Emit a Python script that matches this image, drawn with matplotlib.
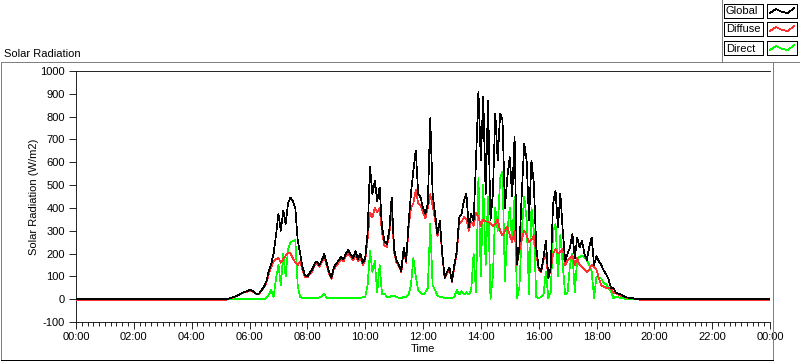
import numpy as np
import matplotlib
matplotlib.use('Agg')
import matplotlib.pyplot as plt
from matplotlib.lines import Line2D
from matplotlib.patches import Rectangle

# ---------------- data (W/m2), 5-minute samples from 05:00 to 20:00 ----------------
global_day = [
    0, 0, 0, 2, 4, 8, 12, 16, 22, 28, 32, 35,                       # 05
    40, 38, 30, 23, 25, 40, 55, 79, 123, 154, 200, 280,             # 06
    374, 300, 388, 330, 420, 446, 430, 400, 260, 200, 140, 105,     # 07
    100, 115, 130, 155, 165, 150, 170, 198, 160, 120, 94, 140,      # 08
    155, 170, 185, 175, 200, 215, 195, 180, 210, 175, 200, 160,     # 09
    180, 290, 578, 460, 520, 430, 490, 314, 255, 242, 300, 446,     # 10
    220, 170, 150, 123, 226, 167, 330, 462, 564, 652, 462, 446,     # 11
    400, 374, 418, 793, 462, 374, 286, 344, 198, 94, 120, 138,      # 12
    79, 150, 211, 358, 374, 432, 462, 314, 374, 344, 608, 909,      # 13
    608, 887, 462, 870, 344, 462, 814, 608, 814, 784, 400, 534,     # 14
    622, 450, 710, 154, 226, 462, 682, 608, 344, 608, 506, 226,     # 15
    138, 123, 180, 255, 94, 138, 420, 476, 314, 462, 300, 167,      # 16
    200, 226, 286, 180, 270, 226, 255, 200, 170, 230, 270, 150,     # 17
    189, 165, 150, 125, 110, 88, 50, 50, 28, 25, 22, 15,            # 18
    9, 7, 5, 4, 2, 1, 0, 0, 0, 0, 0, 0,                             # 19
    0,                                                              # 20:00
]
diffuse_day = [
    -4, -4, -4, 1, 3, 7, 11, 15, 20, 26, 30, 33,
    38, 36, 28, 22, 24, 38, 52, 72, 110, 140, 165, 175,
    180, 160, 175, 190, 205, 200, 180, 160, 150, 165, 130, 98,
    95, 108, 122, 147, 155, 142, 162, 185, 150, 112, 88, 132,
    147, 160, 175, 165, 190, 200, 185, 170, 195, 165, 185, 150,
    170, 260, 380, 360, 400, 380, 400, 290, 235, 230, 280, 400,
    205, 160, 145, 118, 215, 160, 310, 400, 420, 480, 420, 410,
    380, 355, 400, 460, 410, 350, 275, 330, 190, 90, 115, 132,
    76, 140, 200, 330, 340, 360, 350, 300, 340, 320, 380, 360,
    320, 350, 340, 340, 330, 320, 330, 350, 300, 280, 300, 320,
    280, 250, 300, 150, 215, 260, 300, 280, 250, 260, 280, 200,
    130, 118, 170, 200, 90, 130, 200, 220, 200, 210, 220, 150,
    170, 180, 190, 150, 180, 150, 140, 130, 120, 130, 150, 140,
    130, 90, 60, 55, 50, 48, 45, 30, 25, 20, 15, 12,
    8, 6, 4, 3, 1, 0, -2, -4, -4, -4, -4, -4,
    -4,
]
direct_day = [
    0, 0, 0, 0, 0, 0, 0, 0, 0, 0, 0, 0,
    0, 0, 0, 0, 0, 0, 0, 5, 20, 40, 10, 90,
    150, 60, 200, 100, 220, 250, 255, 260, 60, 10, 5, 5,
    5, 5, 5, 5, 5, 8, 12, 25, 5, 5, 5, 5,
    5, 5, 5, 5, 5, 5, 5, 5, 5, 5, 5, 8,
    10, 60, 211, 120, 167, 30, 150, 20, 25, 10, 8, 15,
    15, 10, 5, 5, 10, 8, 20, 60, 180, 100, 40, 30,
    20, 30, 50, 330, 60, 40, 15, 10, 8, 5, 5, 5,
    5, 10, 40, 20, 35, 20, 30, 20, 40, 200, 30, 530,
    100, 500, 150, 450, 0, 100, 400, 300, 530, 560, 80, 300,
    400, 250, 450, 5, 50, 300, 450, 350, 20, 400, 300, 10,
    5, 10, 20, 120, 5, 30, 300, 330, 100, 280, 150, 20,
    30, 150, 200, 30, 180, 185, 190, 185, 170, 150, 120, 5,
    100, 95, 90, 70, 66, 50, 35, 5, 12, 8, 5, 3,
    2, 1, 0, 0, 0, 0, 0, 0, 0, 0, 0, 0,
    0,
]
night_global, night_diffuse, night_direct = 0, -4, 0
day_start_h, day_end_h, step_min = 5, 20, 5

x_tick_labels = ['00:00', '02:00', '04:00', '06:00', '08:00', '10:00', '12:00',
                 '14:00', '16:00', '18:00', '20:00', '22:00', '00:00']
y_ticks = [-100, 0, 100, 200, 300, 400, 500, 600, 700, 800, 900, 1000]
series_names = ['Global', 'Diffuse', 'Direct']
series_colors = ['#000000', '#ff3030', '#00ff00']

# ---------------- build series ----------------
day_t = np.arange(day_start_h * 60, day_end_h * 60 + 1, step_min) / 60.0
t = np.concatenate([[0.0], day_t, [24.0]])
g = np.concatenate([[night_global], global_day, [night_global]])
d = np.concatenate([[night_diffuse], diffuse_day, [night_diffuse]])
r = np.concatenate([[night_direct], direct_day, [night_direct]])

# ---------------- figure ----------------
W, H = 800, 361
plt.rcParams['font.family'] = ['Liberation Sans', 'DejaVu Sans']
plt.rcParams['font.size'] = 8
fig = plt.figure(figsize=(W / 100, H / 100), dpi=100)
fig.patch.set_facecolor('white')

def fx(px):
    return px / W

def fy(py):
    return 1 - py / H

ax = fig.add_axes([fx(76), fy(322), (770 - 76) / W, (322 - 71) / H])
ax.set_facecolor('white')

lw = 0.5
ax.plot(t, r, color=series_colors[2], lw=lw, antialiased=False, zorder=2)
ax.plot(t, d, color=series_colors[1], lw=lw, antialiased=False, zorder=3)
ax.plot(t, g, color=series_colors[0], lw=lw, antialiased=False, zorder=4)

ax.set_xlim(0, 24)
ax.set_ylim(-100, 1000)
ax.set_xticks(np.arange(0, 25, 2))
ax.set_xticklabels(x_tick_labels)
ax.set_xticks(np.arange(0, 24.01, 0.2), minor=True)
ax.set_yticks(y_ticks)
ax.set_yticklabels([str(v) for v in y_ticks])
ax.tick_params(axis='x', which='major', length=5, width=0.6, pad=2, labelsize=8)
ax.tick_params(axis='x', which='minor', length=3, width=0.6)
ax.tick_params(axis='y', which='major', length=5, width=0.6, pad=3, labelsize=8)

for side in ['left', 'bottom', 'top']:
    ax.spines[side].set_linewidth(0.6)
    ax.spines[side].set_color('black')
ax.spines['right'].set_visible(False)

ax.set_xlabel('Time', fontsize=8, labelpad=2)
ax.set_ylabel('Solar Radiation (W/m2)', fontsize=8, labelpad=1)

# ---------------- panel frame ----------------
gray = '#808080'
def fline(xs, ys, color, lw=0.5):
    fig.add_artist(Line2D([fx(v) for v in xs], [fy(v) for v in ys], color=color,
                          lw=lw, transform=fig.transFigure, antialiased=False))

fline([0.5, 772.5], [61.5, 61.5], gray)
fline([0.5, 0.5], [61.5, 360], gray)
fline([772.5, 772.5], [61.5, 360], gray)
fline([0.5, 772.5], [359.5, 359.5], 'black')

fig.text(fx(4), fy(57), 'Solar Radiation', fontsize=8, ha='left', va='baseline')

# ---------------- legend ----------------
fline([721.5, 721.5], [0, 61.5], gray)
fline([721.5, 800], [61.5, 61.5], gray)
row_tops = [4, 22, 41]
for name, col, top in zip(series_names, series_colors, row_tops):
    fig.add_artist(Rectangle((fx(724), fy(top + 14)), (763 - 724) / W, 14 / H,
                             transform=fig.transFigure, fill=False, ec='black',
                             lw=0.5, antialiased=False))
    fig.add_artist(Rectangle((fx(767), fy(top + 14)), (797 - 767) / W, 14 / H,
                             transform=fig.transFigure, fill=False, ec='black',
                             lw=0.5, antialiased=False))
    fig.text(fx(726), fy(top + 7.5), name, fontsize=8, ha='left', va='center')
    sx = [770, 776, 782, 788, 794]
    sy = [top + 9, top + 5, top + 8, top + 9, top + 4]
    fline(sx, sy, col)

fig.savefig('out.png', dpi=100, facecolor='white')
